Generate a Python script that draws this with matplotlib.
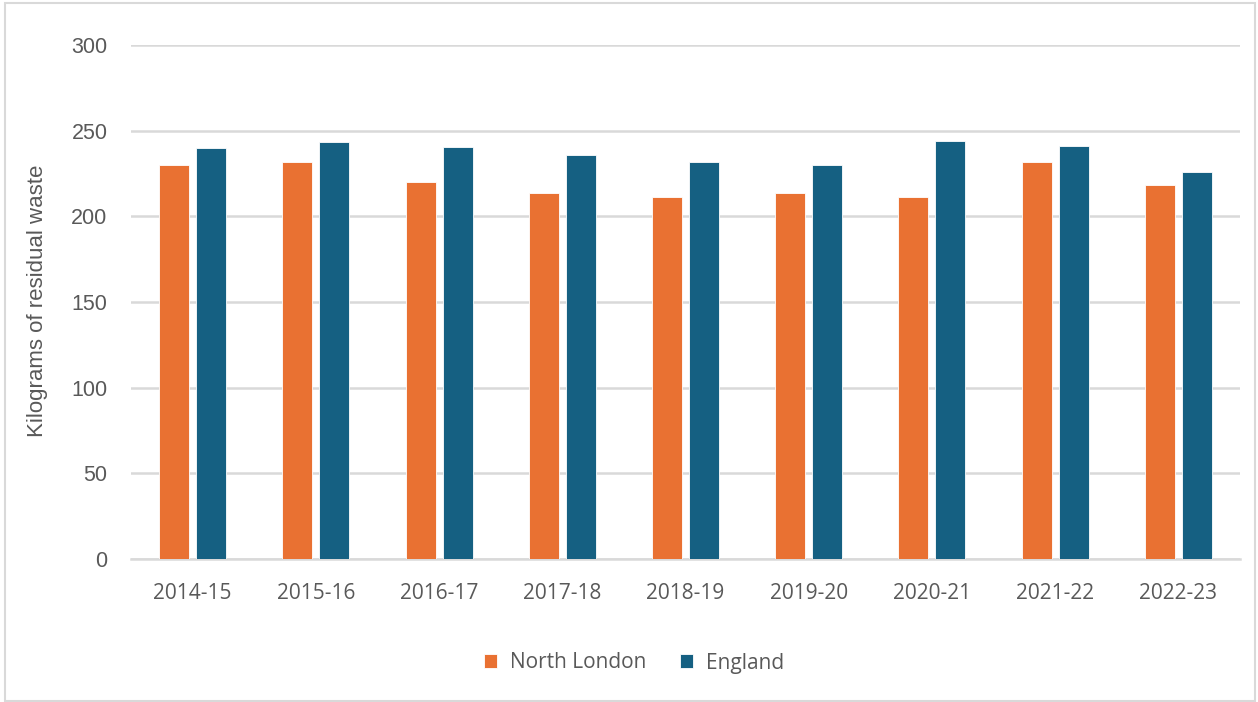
import matplotlib
matplotlib.use('Agg')
import matplotlib.pyplot as plt
import matplotlib.patches as mpatches
import numpy as np

# Residual waste per household (kg)
years = ['2014-15', '2015-16', '2016-17', '2017-18', '2018-19',
         '2019-20', '2020-21', '2021-22', '2022-23']
north_london = [230, 232, 220, 213.5, 211.5, 213.5, 211.5, 232, 218.5]
england = [240, 243.5, 240.5, 236, 232, 230, 244, 241, 226]

yticks = [0, 50, 100, 150, 200, 250, 300]

orange = '#E97132'
blue = '#156082'
grid_col = '#D9D9D9'
text_col = '#595959'

fig = plt.figure(figsize=(12.58, 7.02), dpi=100)
ax = fig.add_axes([131 / 1258, 1 - 559 / 702, (1240 - 131) / 1258, (559 - 45) / 702])

x = np.arange(len(years))
width = 0.243
offset = 0.15

ax.bar(x - offset, north_london, width, color=orange, edgecolor='white', linewidth=0.6,
       label='North London', zorder=3)
ax.bar(x + offset, england, width, color=blue, edgecolor='white', linewidth=0.6,
       label='England', zorder=3)

ax.set_xlim(-0.5, len(years) - 0.5)
ax.set_ylim(0, 300)
ax.set_yticks(yticks)
ax.set_xticks(x)
ax.set_xticklabels(years, fontsize=15, color=text_col, family=['Open Sans', 'DejaVu Sans'])
ax.set_yticklabels([str(t) for t in yticks], fontsize=15.5, color=text_col,
                   family=['Liberation Sans', 'DejaVu Sans'])
ax.tick_params(axis='both', length=0)
ax.tick_params(axis='x', pad=17)
ax.tick_params(axis='y', pad=17)

ax.yaxis.grid(True, color=grid_col, linewidth=1.8, zorder=0)
ax.set_axisbelow(True)
for side in ['top', 'right', 'left']:
    ax.spines[side].set_visible(False)
ax.spines['bottom'].set_color(grid_col)
ax.spines['bottom'].set_linewidth(1.8)

fig.text(38 / 1258, 1 - 301 / 702, 'Kilograms of residual waste', rotation=90,
         ha='center', va='center', fontsize=16, color=text_col,
         family=['Liberation Sans', 'DejaVu Sans'])

# Legend under the plot
fig.legend(loc='center', bbox_to_anchor=(634 / 1258, 1 - 663 / 702), ncol=2,
           frameon=False, handlelength=0.65, handleheight=0.65, handletextpad=0.62,
           columnspacing=1.6, prop={'family': 'Open Sans', 'size': 15},
           labelcolor=text_col)

# Chart border
fig.patches.append(mpatches.Rectangle((5 / 1258, 1 / 702), 1250 / 1258, 698 / 702,
                                      transform=fig.transFigure, fill=False,
                                      edgecolor=grid_col, linewidth=1.5))

fig.savefig('out.png', dpi=100, facecolor='white')
